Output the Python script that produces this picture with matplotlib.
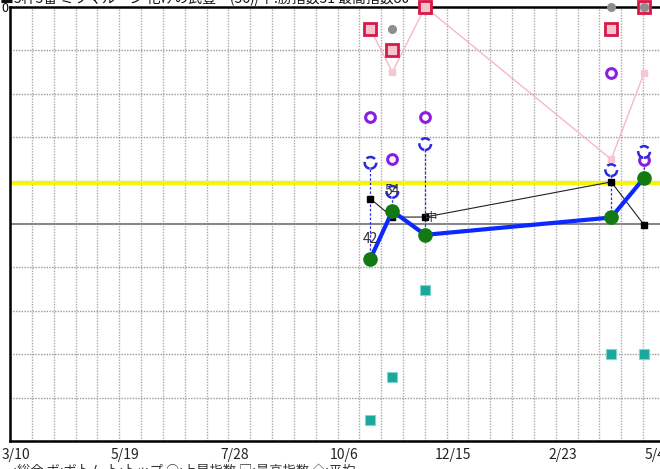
import numpy as np
import pandas as pd
import matplotlib
matplotlib.use("Agg")
import matplotlib.pyplot as plt

plt.rcParams['font.family'] = ['Noto Sans CJK JP', 'DejaVu Sans']

# race dates and the indices drawn for each race
base = pd.Timestamp('2022-03-10')
race_dates = ['2022-10-23', '2022-11-06', '2022-11-27', '2023-03-26', '2023-04-16']
total_idx = [42, 53, 47.5, 51.5, 60.6]       # green points, thick blue line
pace_idx = [55.8, 51.6, 51.6, 59.7, 49.8]    # black squares, thin black line
blue_idx = [64.1, 57.4, 68.4, 62.4, 66.6]    # blue dashed circles
purple_idx = [74.7, 65.0, 74.7, 84.8, 64.7]  # purple rings
red_idx = [94.9, 90.1, 100, 94.9, 100]       # crimson squares
pink_idx = [94.9, 85.0, 100, 64.9, 84.8]     # pink line
gray_x = ['2022-11-06', '2023-03-26', '2023-04-16']
gray_idx = [94.9, 100, 100]
teal_idx = [4.8, 14.7, 34.8, 20.0, 20.0]
point_labels = ['42', '54', '中', '', '']
yellow_level = 59.5

tick_dates = ['2022-03-10', '2022-05-19', '2022-07-28', '2022-10-06',
              '2022-12-15', '2023-02-23', '2023-04-23']
tick_labels = ['3/10', '5/19', '7/28', '10/6', '12/15', '2/23', '5/4']

def days(d):
    return (pd.to_datetime(pd.Series(d)) - base).dt.days.to_numpy()

x = days(race_dates)
gx = days(gray_x)
tx = days(tick_dates)

fig = plt.figure(figsize=(6.6, 4.69), dpi=100)
ax = fig.add_axes([9.5 / 660, 28 / 469, (680 - 9.5) / 660, 434 / 469])
ax.set_xlim(-3.9, 425)
ax.set_ylim(0, 100)

# grid
for gxv in np.arange(10.5, 425, 13.96):
    ax.axvline(gxv, color='#aaaaaa', lw=1.0, ls=(0, (1, 1)), zorder=0)
for gy in range(10, 100, 10):
    if gy == 50:
        ax.axhline(gy, color='#888888', lw=1.5, zorder=1)
    else:
        ax.axhline(gy, color='#999999', lw=1.0, ls=(0, (1, 1)), zorder=0)
ax.axhline(yellow_level, color='#f5f50a', lw=3, zorder=1)

# pink line
ax.plot(x, pink_idx, color='#f7b8c6', lw=1, marker='s', ms=4,
        mfc='#f7c6d0', mec='#f7c6d0', zorder=2)
# crimson squares
ax.plot(x, red_idx, ls='none', marker='s', ms=8, mfc='#f4c4cc',
        mec='#d8174a', mew=2, zorder=4, clip_on=False)
ax.plot(gx, gray_idx, ls='none', marker='o', ms=5.5, color='#8e8e8e', zorder=5, clip_on=False)
# purple rings
ax.plot(x, purple_idx, ls='none', marker='o', ms=7, mfc='white',
        mec='#8a1ee0', mew=2.2, zorder=4)
# blue dashed drops
for xi, b, t in zip(x, blue_idx, total_idx):
    ax.plot([xi, xi], [t, b], color='#2a2ae0', lw=0.9, ls=(0, (2, 1.5)), zorder=3)
ax.scatter(x, blue_idx, s=70, facecolor='white', edgecolor='#2a2ae0',
           linewidths=1.8, linestyle='--', zorder=5)
# pace line
ax.plot(x, pace_idx, color='#222222', lw=0.8, marker='s', ms=4,
        mfc='black', mec='black', zorder=6)
# total line
ax.plot(x, total_idx, color='#0a28ff', lw=3, marker='o', ms=9.5,
        mfc='#137a13', mec='#137a13', zorder=7)
# teal squares
ax.plot(x, teal_idx, ls='none', marker='s', ms=6.5, mfc='#1aa79c',
        mec='#7fd6cf', mew=0.8, zorder=4)

for xi, t, lab in zip(x, total_idx, point_labels):
    if lab == '中':
        ax.text(xi + 4, 51.6, lab, fontsize=9, color='#333333', ha='center', va='center', zorder=8)
    elif lab:
        ax.text(xi, t + 4.5, lab, fontsize=10, color='#333333', ha='center', va='center', zorder=8)

ax.set_xticks(tx)
ax.set_xticklabels(tick_labels, fontsize=10, color='#222222')
ax.set_yticks([100])
ax.set_yticklabels(['0'], fontsize=9)
ax.tick_params(length=0, pad=5)
ax.tick_params(axis='y', pad=1)
for s in ax.spines.values():
    s.set_linewidth(1.8)
    s.set_color('black')

fig.text(0.0, 1.004, '■5枠5番 ミツマルーン 化けの武豊　(56)/下:勝指数51 最高指数80',
         fontsize=10, va='center', ha='left', color='#111111')
fig.text(0.0, -0.005, '一:総合 ボ:ボトム ト:トップ ○:上昇指数 □:最高指数 ◇:平均',
         fontsize=9.5, va='center', ha='left', color='#333333')

fig.savefig('out.png', dpi=100)
